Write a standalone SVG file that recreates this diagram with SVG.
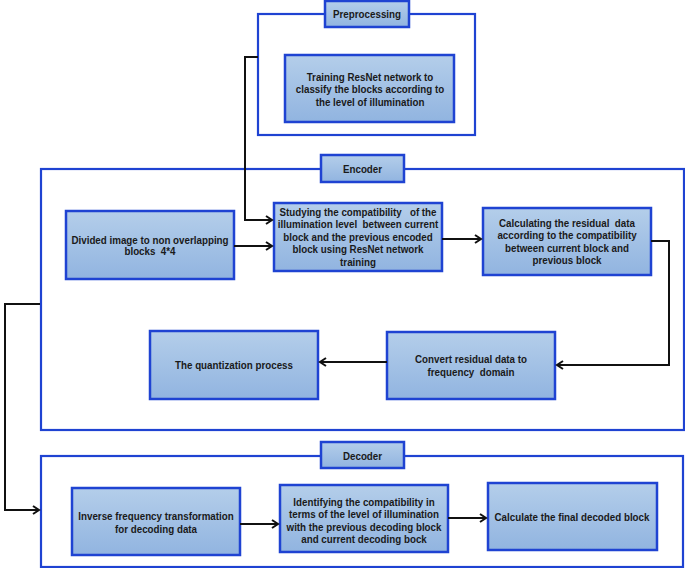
<svg xmlns="http://www.w3.org/2000/svg" width="685" height="568" viewBox="0 0 685 568">
<defs>
<linearGradient id="g" x1="0" y1="0" x2="0" y2="1">
<stop offset="0" stop-color="#b4ceea"/>
<stop offset="1" stop-color="#91b4e0"/>
</linearGradient>
<marker id="ah" markerWidth="10" markerHeight="10" refX="8" refY="5" orient="auto" markerUnits="userSpaceOnUse">
<polyline points="2,1 8,5 2,9" fill="none" stroke="#111" stroke-width="2"/>
</marker>
<style>
.frame{fill:none;stroke:#1f43d2;stroke-width:2.2}
.box{fill:url(#g);stroke:#1f43d2;stroke-width:2.5}
.t{font-family:"Liberation Sans",Arial,sans-serif;font-weight:bold;font-size:11px;fill:#1a1a1a;text-anchor:middle}
.c{fill:none;stroke:#111;stroke-width:2}
</style>
</defs>
<rect width="685" height="568" fill="#fff"/>

<g id="preprocessing">
<rect class="frame" x="258" y="14" width="217" height="121"/>
<rect class="box" x="325" y="1" width="84" height="26"/>
<g transform="translate(367,0) scale(0.89,1)"><text class="t" x="0" y="18">Preprocessing</text></g>
</g>

<g id="training">
<rect class="box" x="285" y="55" width="169" height="67"/>
<g transform="translate(370,0) scale(0.89,1)">
<text class="t" x="0" y="81">Training ResNet network to</text>
<text class="t" x="0" y="93.5">classify the blocks according to</text>
<text class="t" x="0" y="106">the level of illumination</text>
</g>
</g>

<g id="encoder">
<rect class="frame" x="41" y="169" width="643" height="261"/>
<rect class="box" x="321" y="155" width="83" height="27"/>
<g transform="translate(362.5,0) scale(0.89,1)"><text class="t" x="0" y="173">Encoder</text></g>
</g>

<g id="divided">
<rect class="box" x="66" y="211" width="168" height="68"/>
<g transform="translate(150,0) scale(0.89,1)">
<text class="t" x="0" y="244">Divided image to non overlapping</text>
<text class="t" x="0" y="255.5" xml:space="preserve">blocks  4*4</text>
</g>
</g>

<g id="studying">
<rect class="box" x="274" y="203" width="168" height="68"/>
<g transform="translate(358,0) scale(0.89,1)">
<text class="t" x="0" y="216" xml:space="preserve">Studying the compatibility   of the</text>
<text class="t" x="0" y="228.5" xml:space="preserve">illumination level  between current</text>
<text class="t" x="0" y="241">block and the previous encoded</text>
<text class="t" x="0" y="253.5">block using ResNet network</text>
<text class="t" x="0" y="266">training</text>
</g>
</g>

<g id="calculating">
<rect class="box" x="483" y="208" width="168" height="67"/>
<g transform="translate(567,0) scale(0.89,1)">
<text class="t" x="0" y="227" xml:space="preserve">Calculating the residual  data</text>
<text class="t" x="0" y="239.5">according to the compatibility</text>
<text class="t" x="0" y="252">between current block and</text>
<text class="t" x="0" y="264.5">previous block</text>
</g>
</g>

<g id="convert">
<rect class="box" x="387" y="332" width="168" height="67"/>
<g transform="translate(471,0) scale(0.89,1)">
<text class="t" x="0" y="363">Convert residual data to</text>
<text class="t" x="0" y="376" xml:space="preserve">frequency  domain</text>
</g>
</g>

<g id="quantization">
<rect class="box" x="150" y="331" width="168" height="68"/>
<g transform="translate(234,0) scale(0.89,1)">
<text class="t" x="0" y="369">The quantization process</text>
</g>
</g>

<g id="decoder">
<rect class="frame" x="41" y="456" width="642" height="111"/>
<rect class="box" x="321" y="442" width="83" height="26"/>
<g transform="translate(362.5,0) scale(0.89,1)"><text class="t" x="0" y="460">Decoder</text></g>
</g>

<g id="inverse">
<rect class="box" x="72" y="488" width="168" height="67"/>
<g transform="translate(156,0) scale(0.89,1)">
<text class="t" x="0" y="520">Inverse frequency transformation</text>
<text class="t" x="0" y="533">for decoding data</text>
</g>
</g>

<g id="identifying">
<rect class="box" x="280" y="485" width="168" height="67"/>
<g transform="translate(364,0) scale(0.89,1)">
<text class="t" x="0" y="506">Identifying the compatibility in</text>
<text class="t" x="0" y="518.5">terms of the level of illumination</text>
<text class="t" x="0" y="531">with the previous decoding block</text>
<text class="t" x="0" y="543.5">and current decoding bock</text>
</g>
</g>

<g id="final">
<rect class="box" x="488" y="483" width="169" height="67"/>
<g transform="translate(572,0) scale(0.89,1)">
<text class="t" x="0" y="521">Calculate the final decoded block</text>
</g>
</g>

<g id="connectors">
<polyline class="c" points="258,57 245,57 245,220 272,220" marker-end="url(#ah)"/>
<line class="c" x1="234" y1="246" x2="272" y2="246" marker-end="url(#ah)"/>
<line class="c" x1="442" y1="239" x2="481" y2="239" marker-end="url(#ah)"/>
<polyline class="c" points="651,241 669,241 669,365 557,365" marker-end="url(#ah)"/>
<line class="c" x1="387" y1="362" x2="320" y2="362" marker-end="url(#ah)"/>
<polyline class="c" points="40,304 5,304 5,510 39,510" marker-end="url(#ah)"/>
<line class="c" x1="240" y1="524" x2="278" y2="524" marker-end="url(#ah)"/>
<line class="c" x1="448" y1="518" x2="486" y2="518" marker-end="url(#ah)"/>
</g>
</svg>
